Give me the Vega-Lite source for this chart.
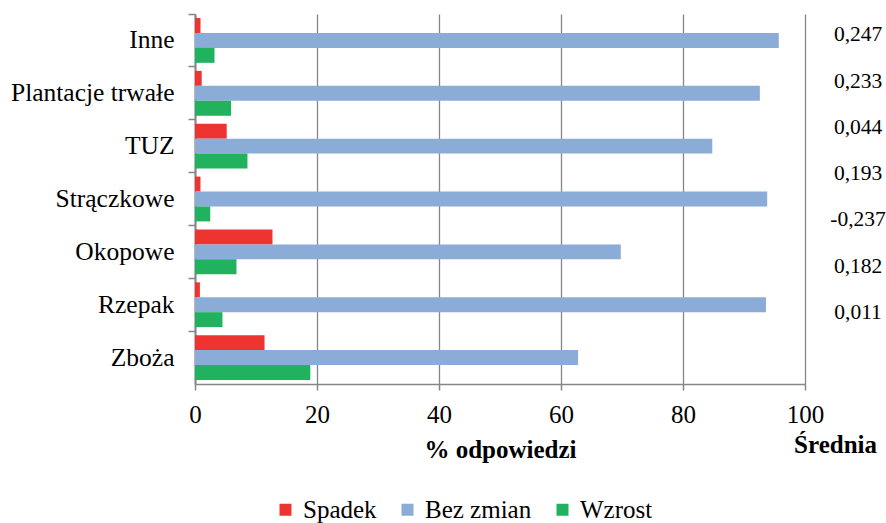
{
  "$schema": "https://vega.github.io/schema/vega-lite/v6.json",
  "width": 610,
  "height": 370,
  "autosize": {"type": "none"},
  "padding": {"left": 195, "top": 14, "right": 81, "bottom": 139},
  "background": "white",
  "config": {"view": {"stroke": null}, "font": "Liberation Serif"},
  "title": {"text": "Średnia", "orient": "bottom", "anchor": "end", "frame": "group", "align": "right", "font": "Liberation Serif", "fontSize": 25, "fontWeight": "bold", "color": "black", "offset": -90, "dx": 72},
  "datasets": {
    "bars": [
      {"Kategoria": "Inne", "Zmiana": "Spadek", "Procent": 0.9},
      {"Kategoria": "Inne", "Zmiana": "Bez zmian", "Procent": 95.7},
      {"Kategoria": "Inne", "Zmiana": "Wzrost", "Procent": 3.2},
      {"Kategoria": "Plantacje trwałe", "Zmiana": "Spadek", "Procent": 1.1},
      {"Kategoria": "Plantacje trwałe", "Zmiana": "Bez zmian", "Procent": 92.6},
      {"Kategoria": "Plantacje trwałe", "Zmiana": "Wzrost", "Procent": 5.9},
      {"Kategoria": "TUZ", "Zmiana": "Spadek", "Procent": 5.2},
      {"Kategoria": "TUZ", "Zmiana": "Bez zmian", "Procent": 84.8},
      {"Kategoria": "TUZ", "Zmiana": "Wzrost", "Procent": 8.6},
      {"Kategoria": "Strączkowe", "Zmiana": "Spadek", "Procent": 0.9},
      {"Kategoria": "Strączkowe", "Zmiana": "Bez zmian", "Procent": 93.8},
      {"Kategoria": "Strączkowe", "Zmiana": "Wzrost", "Procent": 2.5},
      {"Kategoria": "Okopowe", "Zmiana": "Spadek", "Procent": 12.7},
      {"Kategoria": "Okopowe", "Zmiana": "Bez zmian", "Procent": 69.8},
      {"Kategoria": "Okopowe", "Zmiana": "Wzrost", "Procent": 6.8},
      {"Kategoria": "Rzepak", "Zmiana": "Spadek", "Procent": 0.8},
      {"Kategoria": "Rzepak", "Zmiana": "Bez zmian", "Procent": 93.6},
      {"Kategoria": "Rzepak", "Zmiana": "Wzrost", "Procent": 4.5},
      {"Kategoria": "Zboża", "Zmiana": "Spadek", "Procent": 11.4},
      {"Kategoria": "Zboża", "Zmiana": "Bez zmian", "Procent": 62.8},
      {"Kategoria": "Zboża", "Zmiana": "Wzrost", "Procent": 18.9}
    ],
    "avg": [
      {"Kategoria": "Inne", "Srednia": "0,247"},
      {"Kategoria": "Plantacje trwałe", "Srednia": "0,233"},
      {"Kategoria": "TUZ", "Srednia": "0,044"},
      {"Kategoria": "Strączkowe", "Srednia": "0,193"},
      {"Kategoria": "Okopowe", "Srednia": "-0,237"},
      {"Kategoria": "Rzepak", "Srednia": "0,182"},
      {"Kategoria": "Zboża", "Srednia": "0,011"}
    ]
  },
  "layer": [
    {
      "data": {"name": "bars"},
      "mark": {"type": "bar"},
      "encoding": {
        "y": {
          "field": "Kategoria", "type": "nominal", "sort": null,
          "scale": {"paddingInner": 0, "paddingOuter": 0},
          "axis": {"title": null, "bandPosition": 0, "labelFontSize": 25.5, "labelFont": "Liberation Serif", "labelColor": "black", "labelPadding": 14, "tickSize": 7, "tickColor": "#868686", "tickWidth": 1.5, "domainColor": "#868686", "domainWidth": 2, "grid": false}
        },
        "yOffset": {
          "field": "Zmiana", "type": "nominal", "sort": ["Spadek", "Bez zmian", "Wzrost"],
          "scale": {"paddingInner": 0, "paddingOuter": 0.27}
        },
        "x": {
          "field": "Procent", "type": "quantitative",
          "scale": {"domain": [0, 100]},
          "axis": {"title": "% odpowiedzi", "values": [0, 20, 40, 60, 80, 100], "labelFlush": false, "labelFontSize": 25, "labelFont": "Liberation Serif", "labelColor": "black", "labelPadding": 12, "titleFont": "Liberation Serif", "titleFontSize": 25, "titleFontWeight": "bold", "titleColor": "black", "titlePadding": 10, "tickSize": 6, "tickColor": "#868686", "tickWidth": 1.5, "domainColor": "#868686", "domainWidth": 1.5, "gridColor": "#868686", "gridWidth": 1.3, "gridOpacity": 1}
        },
        "color": {
          "field": "Zmiana", "type": "nominal",
          "scale": {"domain": ["Spadek", "Bez zmian", "Wzrost"], "range": ["#EE3430", "#8AACD7", "#21B260"]},
          "legend": {"orient": "none", "legendX": 78, "legendY": 483, "direction": "horizontal", "title": null, "symbolType": "square", "symbolSize": 144, "symbolStrokeWidth": 0, "labelFontSize": 25, "labelFont": "Liberation Serif", "labelColor": "black", "labelOffset": 5, "columnPadding": 18}
        }
      }
    },
    {
      "data": {"name": "avg"},
      "mark": {"type": "text", "fontSize": 21.5, "font": "Liberation Serif", "dy": -25, "align": "center", "color": "black"},
      "encoding": {
        "y": {"field": "Kategoria", "type": "nominal", "sort": null, "scale": {"type": "point", "padding": 1}, "axis": null},
        "x": {"datum": 108.7, "type": "quantitative"},
        "text": {"field": "Srednia", "type": "nominal"}
      }
    }
  ],
  "resolve": {"scale": {"y": "independent"}}
}
